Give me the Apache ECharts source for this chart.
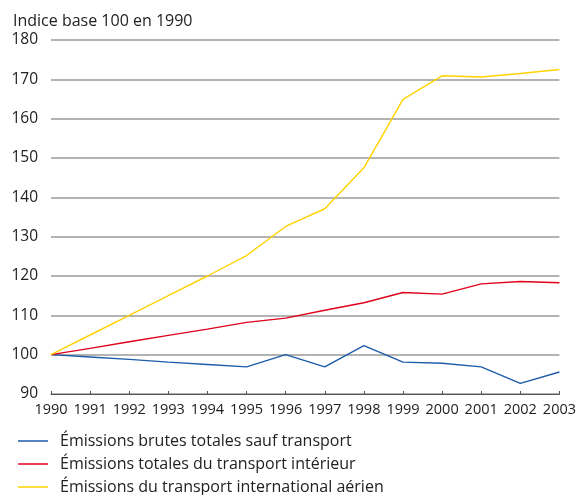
<!DOCTYPE html>
<html><head><meta charset="utf-8">
<script src="https://cdn.jsdelivr.net/npm/echarts@6/dist/echarts.min.js"></script>
<style>html,body{margin:0;padding:0;background:#fff}#c{width:579px;height:495px}</style>
</head><body><div id="c"></div>
<script>
const years = ['1990','1991','1992','1993','1994','1995','1996','1997','1998','1999','2000','2001','2002','2003'];
const brutesSaufTransport = [100, 99.4, 98.8, 98.1, 97.5, 96.9, 100.0, 96.9, 102.3, 98.1, 97.8, 96.9, 92.7, 95.6];
const transportInterieur = [100, 101.6, 103.3, 104.9, 106.5, 108.2, 109.3, 111.3, 113.2, 115.8, 115.4, 118.0, 118.6, 118.3];
const transportAerien = [100, 105, 110, 115, 120, 125.2, 132.6, 137.1, 147.5, 164.9, 170.9, 170.6, 171.5, 172.5];
const seriesNames = ['Émissions brutes totales sauf transport','Émissions totales du transport intérieur','Émissions du transport international aérien'];
const yTitle = 'Indice base 100 en 1990';
const colors = ['#1d5ca8','#e0001b','#ffd200'];
const font = 'Open Sans';
const chart = echarts.init(document.getElementById('c'), null, {renderer:'canvas'});
const mk = (name, data, color) => ({
  name, type:'line', data, symbol:'none', smooth:false,
  lineStyle:{color, width:1.4}, itemStyle:{color}, z: 3
});
chart.setOption({
  animation:false,
  textStyle:{fontFamily:font},
  title:{text:yTitle, left:8, top:8, textStyle:{fontFamily:font, fontSize:16, fontWeight:'normal', color:'#222'}},
  grid:{left:51, right:18, top:40, bottom:101, containLabel:false},
  xAxis:{type:'category', data:years, boundaryGap:false,
    axisLine:{show:true, lineStyle:{color:'#555', width:1}},
    axisTick:{show:true, inside:true, length:3, alignWithLabel:true, lineStyle:{color:'#555'}},
    axisLabel:{color:'#222', fontSize:14.5, fontFamily:font, margin:8, interval:0},
    splitLine:{show:false}},
  yAxis:{type:'value', min:90, max:180, interval:10,
    axisLine:{show:false}, axisTick:{show:false},
    axisLabel:{color:'#222', fontSize:15.5, fontFamily:font, margin:13},
    splitLine:{show:true, lineStyle:{color:'#9a9a9a', width:1.5}}},
  legend:{orient:'vertical', left:13, top:428, height:80, width:560, itemGap:7, itemWidth:30, itemHeight:1.5, icon:'rect',
    textStyle:{fontFamily:font, fontSize:16, color:'#222', padding:[0,0,0,7]},
    data:seriesNames},
  series:[mk(seriesNames[0], brutesSaufTransport, colors[0]), mk(seriesNames[1], transportInterieur, colors[1]), mk(seriesNames[2], transportAerien, colors[2])]
});
</script></body></html>
